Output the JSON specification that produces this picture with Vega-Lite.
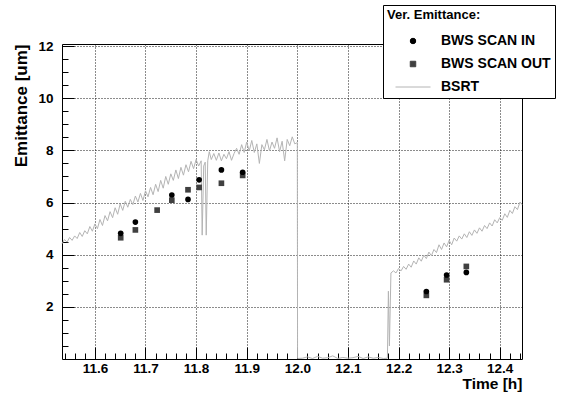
{
  "$schema": "https://vega.github.io/schema/vega-lite/v6.json",
  "width": 460,
  "height": 315,
  "autosize": {"type": "none"},
  "padding": {"left": 62, "top": 44, "right": 58, "bottom": 37},
  "background": "white",
  "config": {
    "font": "Liberation Sans",
    "view": {"stroke": "#000000", "strokeWidth": 1},
    "axis": {"domain": false, "labelFont": "Liberation Sans", "labelFontWeight": "bold", "labelFontSize": 13.5, "labelColor": "#000000", "tickColor": "#000000", "titleFont": "Liberation Sans", "titleFontWeight": "bold", "titleFontSize": 17, "titleColor": "#000000"}
  },
  "datasets": {
    "bsrt": [
      {"t": 11.535, "v": 4.42}, {"t": 11.540, "v": 4.58}, {"t": 11.545, "v": 4.48}, {"t": 11.550, "v": 4.66}, {"t": 11.555, "v": 4.55},
      {"t": 11.560, "v": 4.72}, {"t": 11.565, "v": 4.62}, {"t": 11.570, "v": 4.85}, {"t": 11.575, "v": 4.70}, {"t": 11.580, "v": 4.92},
      {"t": 11.585, "v": 4.80}, {"t": 11.590, "v": 5.08}, {"t": 11.595, "v": 4.90}, {"t": 11.600, "v": 5.18}, {"t": 11.605, "v": 5.00},
      {"t": 11.610, "v": 5.35}, {"t": 11.615, "v": 5.12}, {"t": 11.620, "v": 5.50}, {"t": 11.625, "v": 5.30}, {"t": 11.630, "v": 5.65},
      {"t": 11.635, "v": 5.42}, {"t": 11.640, "v": 5.80}, {"t": 11.645, "v": 5.55}, {"t": 11.650, "v": 5.95}, {"t": 11.655, "v": 5.70},
      {"t": 11.660, "v": 6.05}, {"t": 11.665, "v": 5.82}, {"t": 11.670, "v": 6.12}, {"t": 11.675, "v": 5.92}, {"t": 11.680, "v": 6.25},
      {"t": 11.685, "v": 6.02}, {"t": 11.690, "v": 6.35}, {"t": 11.695, "v": 6.08}, {"t": 11.700, "v": 6.45}, {"t": 11.705, "v": 6.22},
      {"t": 11.710, "v": 6.58}, {"t": 11.715, "v": 6.30}, {"t": 11.720, "v": 6.70}, {"t": 11.725, "v": 6.42}, {"t": 11.730, "v": 6.85},
      {"t": 11.735, "v": 6.55}, {"t": 11.740, "v": 7.00}, {"t": 11.745, "v": 6.70}, {"t": 11.750, "v": 7.10}, {"t": 11.755, "v": 6.85},
      {"t": 11.760, "v": 7.25}, {"t": 11.765, "v": 6.92}, {"t": 11.770, "v": 7.35}, {"t": 11.775, "v": 7.05}, {"t": 11.780, "v": 7.45},
      {"t": 11.785, "v": 7.18}, {"t": 11.790, "v": 7.58}, {"t": 11.795, "v": 7.30}, {"t": 11.800, "v": 7.65}, {"t": 11.805, "v": 7.40},
      {"t": 11.810, "v": 7.60}, {"t": 11.812, "v": 4.75}, {"t": 11.815, "v": 7.40}, {"t": 11.818, "v": 7.55}, {"t": 11.820, "v": 4.75},
      {"t": 11.823, "v": 7.60}, {"t": 11.826, "v": 7.95}, {"t": 11.830, "v": 7.65}, {"t": 11.835, "v": 7.88}, {"t": 11.840, "v": 7.62},
      {"t": 11.845, "v": 7.90}, {"t": 11.850, "v": 7.60}, {"t": 11.855, "v": 7.85}, {"t": 11.860, "v": 7.68}, {"t": 11.865, "v": 7.95},
      {"t": 11.870, "v": 7.62}, {"t": 11.875, "v": 7.88}, {"t": 11.880, "v": 8.08}, {"t": 11.885, "v": 7.85}, {"t": 11.890, "v": 8.22},
      {"t": 11.895, "v": 7.92}, {"t": 11.900, "v": 8.32}, {"t": 11.905, "v": 7.98}, {"t": 11.910, "v": 8.38}, {"t": 11.915, "v": 7.92},
      {"t": 11.920, "v": 8.25}, {"t": 11.925, "v": 7.50}, {"t": 11.930, "v": 8.22}, {"t": 11.935, "v": 8.02}, {"t": 11.940, "v": 8.42},
      {"t": 11.945, "v": 7.98}, {"t": 11.950, "v": 8.32}, {"t": 11.955, "v": 8.08}, {"t": 11.960, "v": 8.48}, {"t": 11.965, "v": 7.95},
      {"t": 11.970, "v": 8.35}, {"t": 11.975, "v": 7.60}, {"t": 11.980, "v": 8.42}, {"t": 11.985, "v": 8.18}, {"t": 11.990, "v": 8.52},
      {"t": 11.995, "v": 8.25}, {"t": 12.000, "v": 8.30}, {"t": 12.0005, "v": 0.02}, {"t": 12.010, "v": 0.03}, {"t": 12.020, "v": 0.08},
      {"t": 12.030, "v": 0.02}, {"t": 12.040, "v": 0.10}, {"t": 12.050, "v": 0.03}, {"t": 12.060, "v": 0.05}, {"t": 12.070, "v": 0.12},
      {"t": 12.080, "v": 0.02}, {"t": 12.090, "v": 0.06}, {"t": 12.100, "v": 0.03}, {"t": 12.110, "v": 0.05}, {"t": 12.120, "v": 0.10},
      {"t": 12.130, "v": 0.02}, {"t": 12.140, "v": 0.08}, {"t": 12.150, "v": 0.03}, {"t": 12.160, "v": 0.06}, {"t": 12.170, "v": 0.02},
      {"t": 12.178, "v": 0.03}, {"t": 12.180, "v": 2.60}, {"t": 12.182, "v": 0.50}, {"t": 12.185, "v": 3.30}, {"t": 12.190, "v": 3.38},
      {"t": 12.195, "v": 3.30}, {"t": 12.200, "v": 3.47}, {"t": 12.205, "v": 3.38}, {"t": 12.210, "v": 3.55}, {"t": 12.215, "v": 3.44},
      {"t": 12.220, "v": 3.64}, {"t": 12.225, "v": 3.52}, {"t": 12.230, "v": 3.76}, {"t": 12.235, "v": 3.64}, {"t": 12.240, "v": 3.88},
      {"t": 12.245, "v": 3.75}, {"t": 12.250, "v": 3.98}, {"t": 12.255, "v": 3.85}, {"t": 12.260, "v": 4.10}, {"t": 12.265, "v": 3.96},
      {"t": 12.270, "v": 4.20}, {"t": 12.275, "v": 4.08}, {"t": 12.280, "v": 4.38}, {"t": 12.285, "v": 4.20}, {"t": 12.290, "v": 4.45},
      {"t": 12.295, "v": 4.30}, {"t": 12.300, "v": 4.55}, {"t": 12.305, "v": 4.38}, {"t": 12.310, "v": 4.64}, {"t": 12.315, "v": 4.52},
      {"t": 12.320, "v": 4.72}, {"t": 12.325, "v": 4.60}, {"t": 12.330, "v": 4.80}, {"t": 12.335, "v": 4.66}, {"t": 12.340, "v": 4.88},
      {"t": 12.345, "v": 4.74}, {"t": 12.350, "v": 4.95}, {"t": 12.355, "v": 4.82}, {"t": 12.360, "v": 5.03}, {"t": 12.365, "v": 4.90},
      {"t": 12.370, "v": 5.12}, {"t": 12.375, "v": 5.00}, {"t": 12.380, "v": 5.22}, {"t": 12.385, "v": 5.10}, {"t": 12.390, "v": 5.34},
      {"t": 12.395, "v": 5.22}, {"t": 12.400, "v": 5.42}, {"t": 12.405, "v": 5.32}, {"t": 12.410, "v": 5.57}, {"t": 12.415, "v": 5.43},
      {"t": 12.420, "v": 5.70}, {"t": 12.425, "v": 5.58}, {"t": 12.430, "v": 5.84}, {"t": 12.435, "v": 5.73}, {"t": 12.440, "v": 6.02},
      {"t": 12.444, "v": 5.92}
    ],
    "bws": [
      {"t": 11.651, "v": 4.65, "series": "BWS SCAN OUT"}, {"t": 11.680, "v": 4.95, "series": "BWS SCAN OUT"},
      {"t": 11.723, "v": 5.71, "series": "BWS SCAN OUT"}, {"t": 11.752, "v": 6.09, "series": "BWS SCAN OUT"},
      {"t": 11.784, "v": 6.49, "series": "BWS SCAN OUT"}, {"t": 11.806, "v": 6.58, "series": "BWS SCAN OUT"},
      {"t": 11.850, "v": 6.74, "series": "BWS SCAN OUT"}, {"t": 11.892, "v": 7.04, "series": "BWS SCAN OUT"},
      {"t": 12.255, "v": 2.44, "series": "BWS SCAN OUT"}, {"t": 12.295, "v": 3.04, "series": "BWS SCAN OUT"},
      {"t": 12.334, "v": 3.55, "series": "BWS SCAN OUT"},
      {"t": 11.651, "v": 4.82, "series": "BWS SCAN IN"}, {"t": 11.680, "v": 5.25, "series": "BWS SCAN IN"},
      {"t": 11.752, "v": 6.29, "series": "BWS SCAN IN"}, {"t": 11.784, "v": 6.12, "series": "BWS SCAN IN"},
      {"t": 11.806, "v": 6.87, "series": "BWS SCAN IN"}, {"t": 11.850, "v": 7.25, "series": "BWS SCAN IN"},
      {"t": 11.892, "v": 7.16, "series": "BWS SCAN IN"}, {"t": 12.255, "v": 2.59, "series": "BWS SCAN IN"},
      {"t": 12.295, "v": 3.22, "series": "BWS SCAN IN"}, {"t": 12.334, "v": 3.32, "series": "BWS SCAN IN"}
    ]
  },
  "resolve": {"axis": {"x": "independent", "y": "independent"}},
  "layer": [
    {
      "data": {"name": "bsrt"},
      "mark": {"type": "line", "strokeWidth": 1, "interpolate": "linear", "color": "#b4b4b4"},
      "encoding": {
        "x": {"field": "t", "type": "quantitative",
          "scale": {"domain": [11.535, 12.444], "nice": false, "zero": false},
          "axis": {"orient": "bottom", "values": [11.6, 11.7, 11.8, 11.9, 12, 12.1, 12.2, 12.3, 12.4], "grid": true, "gridDash": [1, 2], "gridColor": "#000000", "gridOpacity": 0.9, "tickSize": -12, "labelPadding": 14, "title": "Time [h]", "titleAnchor": "end", "titlePadding": 2, "titleFontSize": 15.5}},
        "y": {"field": "v", "type": "quantitative",
          "scale": {"domain": [0, 12.08], "nice": false, "zero": false},
          "axis": {"orient": "left", "values": [2, 4, 6, 8, 10, 12], "grid": true, "gridDash": [1, 2], "gridColor": "#000000", "gridOpacity": 0.9, "tickSize": -12, "labelPadding": 21, "title": "Emittance [um]", "titleAnchor": "end", "titlePadding": 7}},
        "color": {"datum": "BSRT", "type": "nominal",
          "scale": {"domain": ["BWS SCAN IN", "BWS SCAN OUT", "BSRT"], "range": ["#000000", "#404040", "#b4b4b4"]},
          "legend": {"orient": "none", "legendX": 321, "legendY": -39, "title": "Ver. Emittance:", "titleFontSize": 13, "titleFontWeight": "bold", "titleColor": "#000000", "titleFont": "Liberation Sans", "titlePadding": 12, "labelFont": "Liberation Sans", "labelFontSize": 14, "labelFontWeight": "bold", "labelColor": "#000000", "fillColor": "#ffffff", "strokeColor": "#000000", "padding": 4, "symbolOffset": 19, "labelOffset": 21, "rowPadding": 9, "symbolSize": 30,
            "encode": {"symbols": {"update": {"stroke": {"scale": "color", "field": "value"}, "strokeWidth": {"value": 1}, "size": {"signal": "datum.value === 'BSRT' ? 1225 : 30"}}}}}}
      }
    },
    {
      "data": {"name": "bws"},
      "mark": {"type": "point", "filled": true, "opacity": 1, "size": 32},
      "encoding": {
        "x": {"field": "t", "type": "quantitative",
          "axis": {"orient": "bottom", "values": [11.54, 11.56, 11.58, 11.6, 11.62, 11.64, 11.66, 11.68, 11.7, 11.72, 11.74, 11.76, 11.78, 11.8, 11.82, 11.84, 11.86, 11.88, 11.9, 11.92, 11.94, 11.96, 11.98, 12, 12.02, 12.04, 12.06, 12.08, 12.1, 12.12, 12.14, 12.16, 12.18, 12.2, 12.22, 12.24, 12.26, 12.28, 12.3, 12.32, 12.34, 12.36, 12.38, 12.4, 12.42, 12.44], "grid": false, "labels": false, "tickSize": -6, "title": null}},
        "y": {"field": "v", "type": "quantitative",
          "axis": {"orient": "left", "values": [0.5, 1, 1.5, 2, 2.5, 3, 3.5, 4, 4.5, 5, 5.5, 6, 6.5, 7, 7.5, 8, 8.5, 9, 9.5, 10, 10.5, 11, 11.5, 12], "grid": false, "labels": false, "tickSize": -6, "title": null}},
        "color": {"field": "series", "type": "nominal"},
        "shape": {"field": "series", "type": "nominal",
          "scale": {"domain": ["BWS SCAN IN", "BWS SCAN OUT", "BSRT"], "range": ["circle", "square", "stroke"]}}
      }
    }
  ]
}
